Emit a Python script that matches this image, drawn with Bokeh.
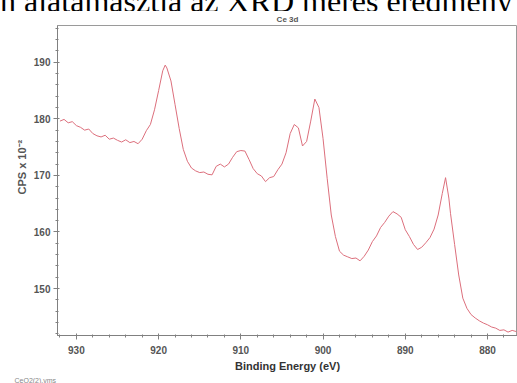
from bokeh.plotting import figure
from bokeh.models import Range1d, FixedTicker, Title, Div
from bokeh.layouts import column
from bokeh.embed import file_html
from bokeh.resources import INLINE

# Binding energy (eV) and counts (CPS x 10^-2)
energy = [932.0, 931.5, 931.0, 930.5, 930.0, 929.5, 929.0, 928.5, 928.0, 927.5,
          927.0, 926.5, 926.0, 925.5, 925.0, 924.5, 924.0, 923.5, 923.0, 922.5,
          922.0, 921.5, 921.0, 920.5, 920.0, 919.5, 919.2, 919.0, 918.5, 918.0,
          917.5, 917.0, 916.5, 916.0, 915.5, 915.0, 914.5, 914.0, 913.5, 913.0,
          912.5, 912.0, 911.5, 911.0, 910.5, 910.0, 909.5, 909.0, 908.5, 908.0,
          907.5, 907.0, 906.5, 906.0, 905.5, 905.0, 904.5, 904.0, 903.5, 903.0,
          902.5, 902.0, 901.5, 901.0, 900.5, 900.0, 899.5, 899.0, 898.5, 898.0,
          897.5, 897.0, 896.5, 896.0, 895.5, 895.0, 894.5, 894.0, 893.5, 893.0,
          892.5, 892.0, 891.5, 891.0, 890.5, 890.0, 889.5, 889.0, 888.5, 888.0,
          887.5, 887.0, 886.5, 886.0, 885.5, 885.1, 884.7, 884.5, 884.0, 883.5,
          883.0, 882.5, 882.0, 881.5, 881.0, 880.5, 880.0, 879.5, 879.0, 878.5,
          878.0, 877.5, 877.0, 876.5]
cps = [179.6, 179.9, 179.3, 179.5, 178.8, 178.5, 178.0, 178.2, 177.4, 177.0,
       176.8, 177.1, 176.4, 176.6, 176.2, 175.9, 176.3, 175.8, 176.0, 175.6,
       176.4, 177.9, 179.0, 181.6, 185.0, 188.5, 189.5, 189.0, 186.7, 182.5,
       178.3, 174.6, 172.5, 171.3, 170.8, 170.5, 170.6, 170.2, 170.1, 171.6,
       172.0, 171.5, 172.0, 173.2, 174.2, 174.4, 174.3, 172.8, 171.2, 170.3,
       169.9, 168.9, 169.6, 169.8, 171.0, 172.0, 174.0, 177.4, 179.0, 178.4,
       175.2, 176.0, 179.6, 183.5, 182.0, 176.5, 169.5, 163.0, 159.2, 156.6,
       155.9, 155.6, 155.3, 155.4, 154.9, 155.7, 156.8, 158.3, 159.3, 160.8,
       161.7, 162.8, 163.6, 163.2, 162.6, 160.4, 159.2, 157.8, 156.9, 157.3,
       158.1, 159.0, 160.5, 163.0, 166.8, 169.6, 166.0, 163.3, 157.8, 152.4,
       148.3, 146.5, 145.4, 144.8, 144.3, 143.9, 143.6, 143.2, 143.0, 142.6,
       142.7, 142.3, 142.6, 142.4]

x_major = [930, 920, 910, 900, 890, 880]
y_major = [150, 160, 170, 180, 190]
title_text = "Ce 3d"
x_label = "Binding Energy (eV)"
y_label = "CPS x 10\u207b\u00b2"
file_text = "CeO2(2).vms"
header_text = "n alátámasztja az XRD mérés eredmény"

X0, X1 = 932.3, 876.35
Y0, Y1 = 141.7, 196.5

header = Div(text=('<div style="font-family:\'Liberation Serif\',\'DejaVu Serif\',serif;'
                   'font-size:32px;line-height:32px;white-space:nowrap;margin-top:-17px;'
                   'color:#000;">' + header_text + '</div>'),
             width=517, height=11, margin=(0, 0, 0, 0),
             styles={"overflow": "hidden", "font-family": "'Liberation Serif', serif"})

p = figure(width=517, height=372, x_range=Range1d(X0, X1), y_range=Range1d(Y0, Y1),
           output_backend="svg", toolbar_location=None, margin=(0, 0, 0, 0),
           min_border_left=57, min_border_right=0, min_border_top=13, min_border_bottom=47)

p.line(energy, cps, line_color="#dc6f7c", line_width=1)

p.xgrid.visible = False
p.ygrid.visible = False
p.outline_line_color = "#9a9a9a"
p.background_fill_color = "white"
p.border_fill_color = "white"

p.title.text = title_text
p.title.align = "center"
p.title.text_font = "Liberation Sans"
p.title.text_font_size = "8px"
p.title.text_font_style = "bold"
p.title.text_color = "#555555"
p.title.standoff = 3

p.xaxis.ticker = FixedTicker(ticks=x_major, minor_ticks=list(range(878, 933, 2)))
p.yaxis.ticker = FixedTicker(ticks=y_major, minor_ticks=list(range(142, 197, 2)))

for ax in (p.xaxis[0], p.yaxis[0]):
    ax.axis_line_color = "#808080"
    ax.major_tick_line_color = "#808080"
    ax.minor_tick_line_color = "#808080"
    ax.major_tick_out = 4
    ax.major_tick_in = 2
    ax.minor_tick_out = 2
    ax.minor_tick_in = 1
    ax.major_label_text_font = "Liberation Sans"
    ax.major_label_text_font_size = "10px"
    ax.major_label_text_font_style = "bold"
    ax.major_label_text_color = "#555555"

p.xaxis.major_label_standoff = 6
p.yaxis.major_label_standoff = 3
p.xaxis.axis_label = x_label
p.xaxis.axis_label_text_font = "Liberation Sans"
p.xaxis.axis_label_text_font_size = "11px"
p.xaxis.axis_label_text_font_style = "bold"
p.xaxis.axis_label_text_color = "#333333"
p.xaxis.axis_label_standoff = 3

# align="left" on a left-side title starts the text at the frame bottom + offset
p.add_layout(Title(text=y_label, align="left", offset=141, standoff=6,
                   text_font="Liberation Sans", text_font_size="11px", text_font_style="bold",
                   text_color="#555555"), "left")
p.add_layout(Title(text=file_text, align="left", offset=-43, standoff=0,
                   text_font="Liberation Sans", text_font_size="7px", text_font_style="normal",
                   text_color="#888888"), "below")

open("out.html", "w").write(file_html(column(header, p, spacing=0), INLINE))
